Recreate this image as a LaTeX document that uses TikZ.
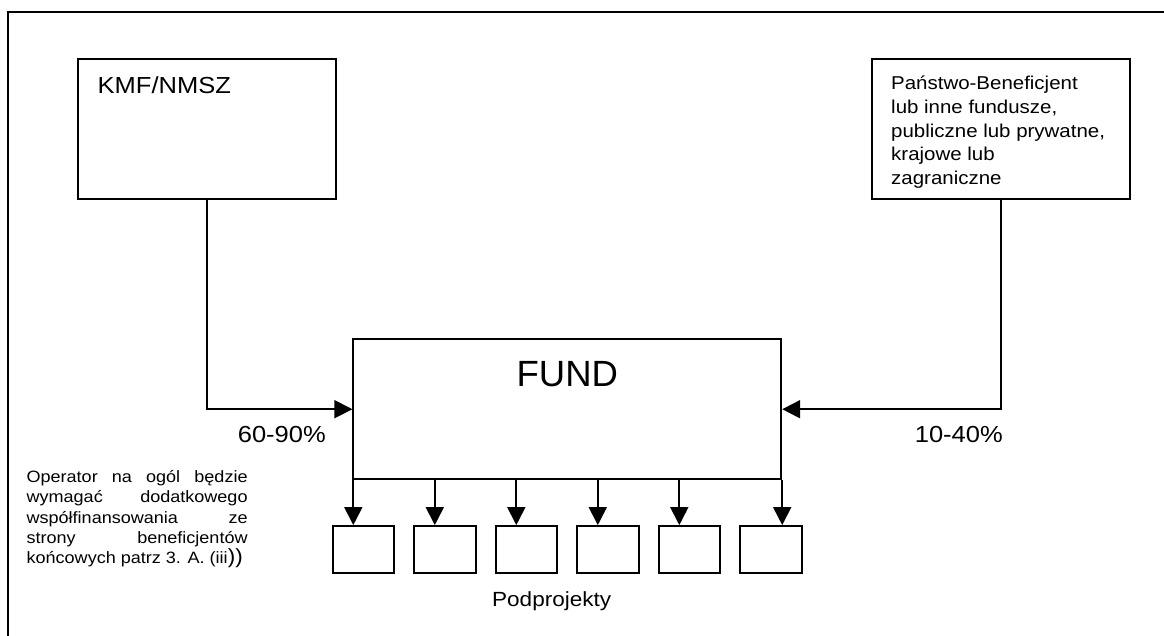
\documentclass[tikz,border=0pt]{standalone}
\usepackage{fontspec}
\setmainfont{Liberation Sans}
\newfontfamily\wf{Liberation Sans}[FakeStretch=1.1]
\usetikzlibrary{arrows.meta}
\begin{document}
\begin{tikzpicture}[x=1pt,y=-1pt,
  box/.style={draw,line width=1.8pt,inner sep=0pt,rectangle},
  arr/.style={line width=1.8pt,-{Triangle[length=18pt,width=18pt]}},
  lbl/.style={inner sep=0pt,font=\wf\fontsize{23.2}{27}\selectfont}]
\useasboundingbox (0,0) rectangle (1164,636);
% outer frame (only top and left edges visible)
\draw[line width=1.8pt] (8,636) -- (8,12) -- (1164,12);
% boxes
\node[box,minimum width=258pt,minimum height=140.6pt] (kmf) at (207,129) {};
\node[box,minimum width=257.7pt,minimum height=140.6pt] (rb) at (1001.15,129) {};
\node[box,minimum width=428pt,minimum height=140.3pt] (fund) at (567.3,409.2) {};
\foreach \i in {1,...,6}{
  \node[box,minimum width=61.6pt,minimum height=47.3pt] (s\i) at ({363.5+81.5*(\i-1)},549.65) {};
}
% texts
\node[lbl,anchor=base west] (tkmf) at (97.5,93.3) {KMF/NMSZ};
\node[inner sep=0pt,anchor=base west,align=left,font=\wf\fontsize{18.6}{23.6}\selectfont] (trb) at (891,184.4)
  {Państwo-Beneficjent\\lub inne fundusze,\\publiczne lub prywatne,\\krajowe lub\\zagraniczne};
\node[inner sep=0pt,anchor=base,font=\fontsize{36.5}{40}\selectfont] (tfund) at (567.3,386.5) {FUND};
\node[lbl,anchor=base east] (t60) at (326,442.7) {60-90\%};
\node[lbl,anchor=base east] (t10) at (1003,442.7) {10-40\%};
\node[inner sep=0pt,anchor=base,font=\wf\fontsize{20.5}{24}\selectfont] (tpod) at (551.7,606) {Podprojekty};
\node[inner sep=0pt,anchor=base west,align=left,font=\wf\fontsize{16.4}{20.2}\selectfont] (tnote) at (26.4,563.5)
  {\hbox to 221pt{Operator na ogól będzie}\\
   \hbox to 221pt{wymagać dodatkowego}\\
   \hbox to 221pt{współfinansowania ze}\\
   \hbox to 221pt{strony beneficjentów}\\
   końcowych patrz 3. A. (iii{\fontsize{20.5}{20}\selectfont))}};
% connectors
\draw[arr] (kmf.south) |- (fund.west);
\draw[arr] (rb.south) |- (fund.east);
\foreach \i in {1,...,5}{
  \draw[arr] ([xshift=-10.2pt]s\i.north |- fund.south) -- ([xshift=-10.2pt]s\i.north);
}
\draw[arr] (fund.south east) -- (fund.south east |- s6.north);
\end{tikzpicture}
\end{document}
